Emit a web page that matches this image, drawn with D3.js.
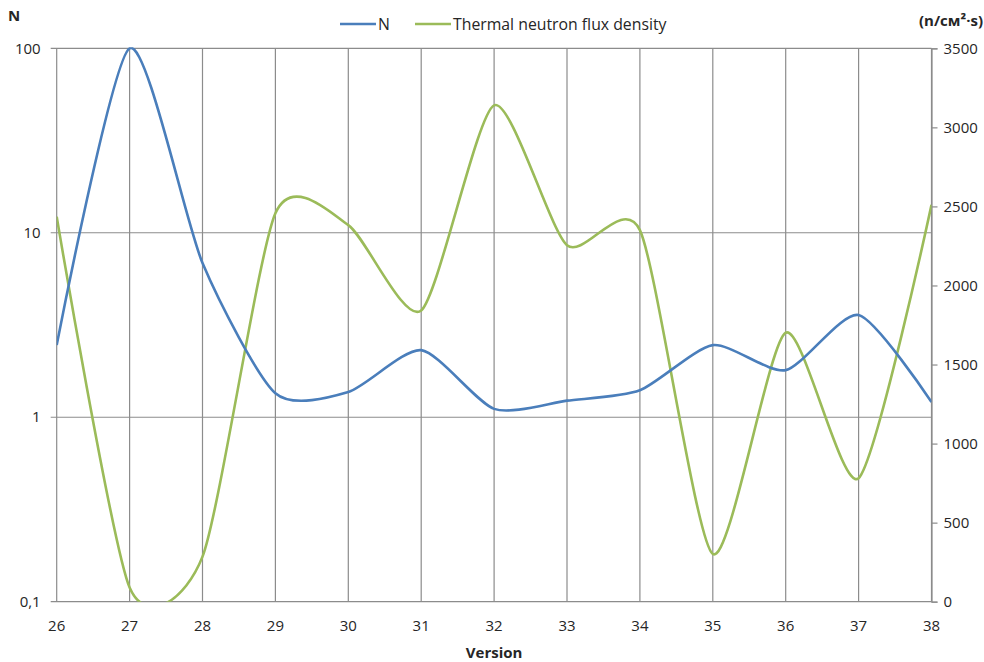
<!DOCTYPE html>
<html>
<head>
<meta charset="utf-8">
<script src="https://cdn.jsdelivr.net/npm/d3@7"></script>
<style>
  body { margin: 0; background: #fff; }
  svg text { font-family: "Open Sans", "Noto Sans", sans-serif; fill: #262626; }
</style>
</head>
<body>
<div id="chart"></div>
<script>
// data
var versions = [26, 27, 28, 29, 30, 31, 32, 33, 34, 35, 36, 37, 38];
var nValues = [2.46, 100, 6.85, 1.35, 1.37, 2.31, 1.11, 1.23, 1.40, 2.46, 1.80, 3.58, 1.21];
var fluxValues = [2435, 90, 285, 2457, 2382, 1842, 3139, 2255, 2350, 302, 1701, 781, 2510];
var leftTicks = [0.1, 1, 10, 100];
var leftTickLabels = ['0,1', '1', '10', '100'];
var rightTicks = [0, 500, 1000, 1500, 2000, 2500, 3000, 3500];

(function () {
  var width = 984, height = 662;
  var margin = { top: 48.3, right: 52.5, bottom: 60.3, left: 56.7 };
  var innerW = width - margin.left - margin.right,
      innerH = height - margin.top - margin.bottom;
  var fs = '15px';

  var svg = d3.select('#chart')
    .append('svg')
    .attr('width', width)
    .attr('height', height);

  var g = svg.append('g')
    .attr('transform', 'translate(' + margin.left + ',' + margin.top + ')');

  var x = d3.scaleLinear().domain([26, 38]).range([0, innerW]);
  var yLeft = d3.scaleLog().domain([0.1, 100]).range([innerH, 0]);
  var yRight = d3.scaleLinear().domain([0, 3500]).range([innerH, 0]);

  var gridColor = '#8c8c8c';

  // vertical grid
  g.selectAll('.vgrid')
    .data(versions)
    .enter().append('line')
    .attr('x1', function (d) { return x(d); })
    .attr('x2', function (d) { return x(d); })
    .attr('y1', 0)
    .attr('y2', innerH)
    .attr('stroke', gridColor)
    .attr('stroke-width', 1.2);

  // horizontal grid (log decades), with small outside ticks on the left
  g.selectAll('.hgrid')
    .data(leftTicks)
    .enter().append('line')
    .attr('x1', -6)
    .attr('x2', innerW)
    .attr('y1', function (d) { return yLeft(d); })
    .attr('y2', function (d) { return yLeft(d); })
    .attr('stroke', gridColor)
    .attr('stroke-width', 1.2);

  // left tick labels
  g.selectAll('.ltick')
    .data(leftTicks)
    .enter().append('text')
    .attr('x', -16)
    .attr('y', function (d) { return yLeft(d); })
    .attr('dy', '0.35em')
    .attr('text-anchor', 'end')
    .style('font-size', fs)
    .text(function (d, i) { return leftTickLabels[i]; });

  // right axis
  var rightAxis = d3.axisRight(yRight)
    .tickValues(rightTicks)
    .tickFormat(d3.format('d'))
    .tickSize(6)
    .tickPadding(6);
  var ra = g.append('g')
    .attr('transform', 'translate(' + innerW + ',0)')
    .call(rightAxis);
  ra.select('.domain').attr('stroke', gridColor).attr('stroke-width', 1.2);
  ra.selectAll('.tick line').attr('stroke', gridColor).attr('stroke-width', 1.2);
  ra.selectAll('.tick text')
    .style('font-size', fs)
    .style('font-family', '"Open Sans", "Noto Sans", sans-serif')
    .attr('fill', '#262626');

  // bottom tick labels
  g.selectAll('.xtick')
    .data(versions)
    .enter().append('text')
    .attr('x', function (d) { return x(d); })
    .attr('y', innerH + 29)
    .attr('text-anchor', 'middle')
    .style('font-size', fs)
    .text(function (d) { return d; });

  // clip to plot area
  svg.append('defs').append('clipPath')
    .attr('id', 'plotclip')
    .append('rect')
    .attr('x', 0).attr('y', -1)
    .attr('width', innerW).attr('height', innerH + 1);

  var smooth = d3.curveCardinal.tension(0.3);

  var lineN = d3.line()
    .x(function (d, i) { return x(versions[i]); })
    .y(function (d) { return yLeft(d); })
    .curve(smooth);

  var lineFlux = d3.line()
    .x(function (d, i) { return x(versions[i]); })
    .y(function (d) { return yRight(d); })
    .curve(smooth);

  var plot = g.append('g').attr('clip-path', 'url(#plotclip)');

  plot.append('path')
    .datum(fluxValues)
    .attr('d', lineFlux)
    .attr('fill', 'none')
    .attr('stroke', '#9bbb59')
    .attr('stroke-width', 2.6);

  plot.append('path')
    .datum(nValues)
    .attr('d', lineN)
    .attr('fill', 'none')
    .attr('stroke', '#4a7ebb')
    .attr('stroke-width', 2.6);

  // axis titles
  svg.append('text')
    .attr('x', 8).attr('y', 21)
    .style('font-size', fs)
    .style('font-weight', 'bold')
    .text('N');

  svg.append('text')
    .attr('x', 983).attr('y', 26)
    .attr('text-anchor', 'end')
    .style('font-size', fs)
    .style('font-weight', 'bold')
    .text('(n/cм²·s)');

  svg.append('text')
    .attr('x', margin.left + innerW / 2)
    .attr('y', 658)
    .attr('text-anchor', 'middle')
    .style('font-size', fs)
    .style('font-weight', 'bold')
    .text('Version');

  // legend
  var legend = [
    { name: 'N', color: '#4a7ebb', x0: 340 },
    { name: 'Thermal neutron flux density', color: '#9bbb59', x0: 415 }
  ];
  var lg = svg.selectAll('.legend')
    .data(legend)
    .enter().append('g')
    .attr('transform', function (d) { return 'translate(' + d.x0 + ',24)'; });
  lg.append('line')
    .attr('x1', 0).attr('x2', 36)
    .attr('y1', 0).attr('y2', 0)
    .attr('stroke', function (d) { return d.color; })
    .attr('stroke-width', 2.6);
  lg.append('text')
    .attr('x', 38)
    .attr('dy', '0.35em')
    .style('font-size', '15.8px')
    .text(function (d) { return d.name; });
})();
</script>
</body>
</html>
